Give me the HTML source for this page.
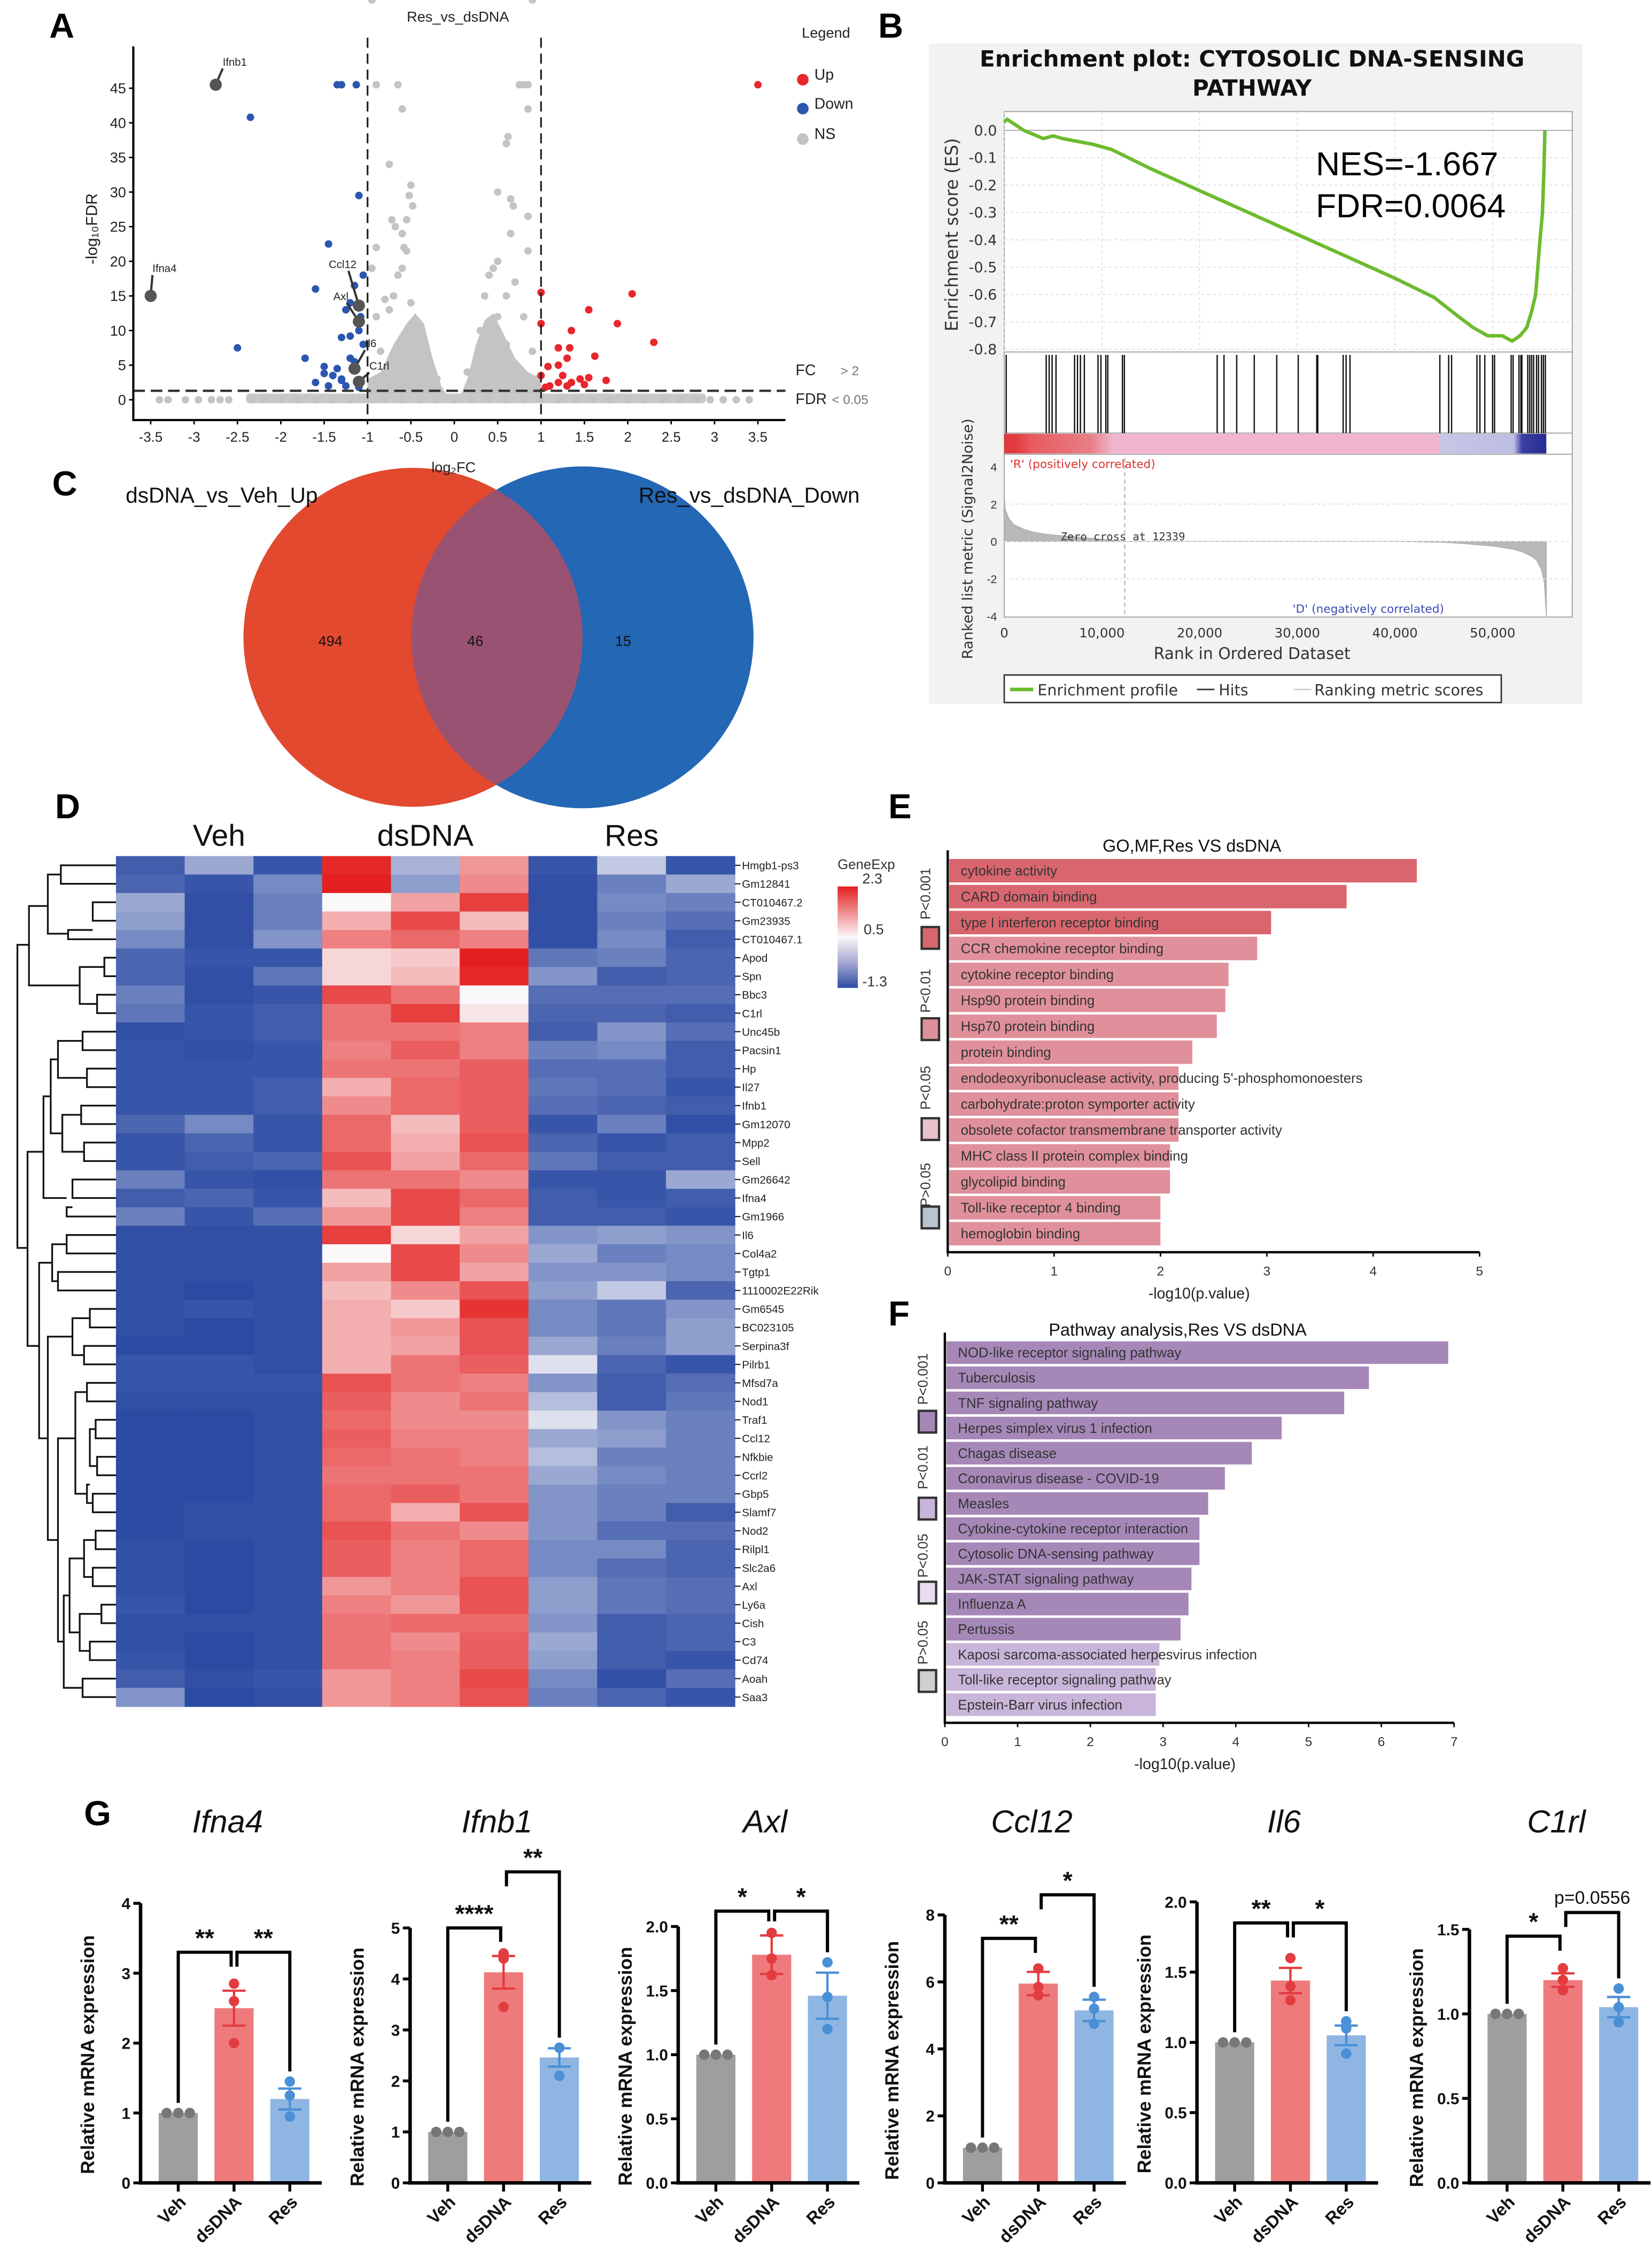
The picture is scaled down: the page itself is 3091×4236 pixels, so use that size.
<!DOCTYPE html>
<html><head><meta charset="utf-8">
<style>
html,body{margin:0;padding:0;background:#fff;}
svg{display:block;font-family:"Liberation Sans",Arial,sans-serif;}
</style></head>
<body>
<svg id="fig" xmlns="http://www.w3.org/2000/svg" width="3091" height="4236" viewBox="0 0 1140 1563" preserveAspectRatio="none">
<rect x="0" y="0" width="1140" height="1563" fill="#fff"/>
<g id="pC"></g>
<g id="pA"></g>
<g id="pB"></g>
<g id="pD"></g>
<g id="pE"></g>
<g id="pF"></g>
<g id="pG"></g>
</svg>
<script>
// ---------- DATA ----------
// Panel A volcano
const upFC=[3.5,2.05,2.3,1.55,1.88,1.35,1.0,1.0,1.33,1.2,1.3,1.62,1.2,1.25,1.08,1.0,1.45,1.55,1.35,1.75,1.1,1.2,1.3,1.05,1.5];
const upY=[45.5,15.3,8.3,13,11,10,15.5,11,7.5,7.5,6,6.3,5,3.5,4.8,3.5,3,3.2,2.5,2.8,2,2.5,2,1.8,2.2];
const downFC=[-1.35,-1.3,-1.13,-2.35,-1.1,-1.45,-2.5,-1.72,-1.05,-1.6,-1.15,-1.2,-1.25,-1.08,-1.3,-1.2,-1.5,-1.4,-1.3,-1.1,-1.6,-1.25,-1.35,-1.15,-1.05,-1.45,-1.2,-1.1,-1.3,-1.5];
const downY=[45.5,45.5,45.5,40.8,29.5,22.5,7.5,6,18,16,16.5,14,13,12,9,9.2,4.8,3.5,3,10,2.5,2,4.5,5.5,8,2,6,1.8,2.8,3.8];
const nsFC=[-3.4,-3.3,-3.1,-2.95,-2.8,-2.7,-2.6,-2.35,-2.2,-2,-1.8,-1.6,-1.4,-1.2,-1.0,-0.8,-0.6,-0.4,-0.2,0,0.2,0.4,0.6,0.8,1.0,1.2,1.4,1.6,1.8,2,2.2,2.4,2.6,2.8,2.95,3.1,3.25,3.4,
-0.9,-0.65,0.75,0.8,0.85,-0.6,0.85,0.6,0.62,-0.75,-0.5,-0.52,-0.48,-0.55,0.5,0.65,0.68,0.85,-0.72,-0.68,-0.6,-0.58,-0.55,0.65,0.85,-0.9,-0.6,0.45,0.5,-0.95,-0.65,0.4,0.7,0.6,-0.8,-0.7,-0.5,0.35,0.5,0.8,-0.9,-0.75,-0.45,0.3,0.45,0.6,0.9,-0.85,-0.3,0.25,0.95,-0.2,0.15,0.9,-0.95];
const nsY=[0,0,0,0,0,0,0,0,0,0,0,0,0,0,0,0,0,0,0,0,0,0,0,0,0,0,0,0,0,0,0,0,0,0,0,0,0,0,
45.5,45.5,45.5,45.5,45.5,42,42,37,38,34,31,29.5,28,26,30,29,28,26.5,26,25,24,22,21.5,24,21.5,22,19,19,20,19,18,18,17,15,14.5,15,14,15,12,12,12,13,11,10,9,8,7,7,6,5,3,3,4];
// Panel B GSEA
const esRank=[0,0.3,2,4,5,6,7.5,9,11,15,20,25,30,35,40,44,46.5,48,49.5,50.2,51,52,52.8,53.5,54,54.4,54.8,55.1,55.25,55.35];
const esVal=[0.03,0.04,0.0,-0.03,-0.02,-0.03,-0.04,-0.05,-0.07,-0.14,-0.22,-0.3,-0.38,-0.46,-0.54,-0.61,-0.68,-0.72,-0.75,-0.75,-0.75,-0.77,-0.75,-0.72,-0.66,-0.6,-0.42,-0.3,-0.15,0.0];
const hitRank=[0.2,4.3,4.6,4.9,5.3,7.2,7.5,7.8,8.2,9.6,9.9,10.4,10.6,12.1,12.3,21.8,22.5,23.8,25.6,27.9,30.1,32.0,32.1,34.7,35.0,35.4,44.6,45.5,45.8,48.4,48.7,49.2,50.0,50.2,51.9,52.1,52.7,52.9,53.0,53.6,53.8,54.0,54.2,54.5,54.7,55.0,55.2,55.4];
const metRank=[0,0.1,0.5,1,2,3,4,5,6,8,10,12.3,20,30,40,45,47,50,52,53,54,54.5,55,55.3,55.5];
const metVal=[2.5,1.7,1.2,0.9,0.65,0.5,0.4,0.35,0.3,0.22,0.12,0,0,0,0,-0.05,-0.12,-0.25,-0.4,-0.55,-0.8,-1.0,-1.5,-2.2,-4.0];
// Panel C Venn
const vennLabels=["dsDNA_vs_Veh_Up","Res_vs_dsDNA_Down"];
const vennCounts=[494,46,15];
// Panel D heatmap
const genes=["Hmgb1-ps3","Gm12841","CT010467.2","Gm23935","CT010467.1","Apod","Spn","Bbc3","C1rl","Unc45b","Pacsin1","Hp","Il27","Ifnb1","Gm12070","Mpp2","Sell","Gm26642","Ifna4","Gm1966","Il6","Col4a2","Tgtp1","1110002E22Rik","Gm6545","BC023105","Serpina3f","Pilrb1","Mfsd7a","Nod1","Traf1","Ccl12","Nfkbie","Ccrl2","Gbp5","Slamf7","Nod2","Rilpl1","Slc2a6","Axl","Ly6a","Cish","C3","Cd74","Aoah","Saa3"];
const groups=["Veh","dsDNA","Res"];
const expr=[
[-1.0,-0.2,-1.1, 2.2,-0.1,1.2, -1.1,0.1,-1.1],
[-0.9,-1.1,-0.5, 2.3,-0.3,1.3, -1.2,-0.6,-0.2],
[-0.2,-1.2,-0.6, 0.5,1.1,2.0, -1.2,-0.5,-0.6],
[-0.3,-1.2,-0.6, 1.0,1.9,0.9, -1.2,-0.6,-0.8],
[-0.5,-1.2,-0.4, 1.4,1.6,1.4, -1.2,-0.5,-1.0],
[-0.9,-1.1,-1.1, 0.7,0.8,2.3, -0.7,-0.6,-0.9],
[-0.9,-1.2,-0.7, 0.7,0.9,2.2, -0.4,-1.0,-0.9],
[-0.6,-1.2,-1.1, 1.9,1.5,0.5, -0.8,-0.8,-0.8],
[-0.7,-1.1,-1.0, 1.5,2.0,0.6, -0.9,-0.9,-1.0],
[-1.2,-1.1,-1.0, 1.5,1.5,1.4, -1.0,-0.4,-0.8],
[-1.1,-1.2,-1.1, 1.4,1.7,1.4, -0.6,-0.5,-1.0],
[-1.1,-1.1,-1.1, 1.5,1.5,1.7, -0.8,-0.8,-1.0],
[-1.1,-1.1,-1.0, 1.0,1.6,1.7, -0.7,-0.8,-1.1],
[-1.1,-1.1,-1.0, 1.3,1.6,1.7, -0.8,-0.9,-1.0],
[-0.9,-0.5,-1.1, 1.6,0.9,1.7, -1.1,-0.6,-1.2],
[-1.1,-0.9,-1.1, 1.6,1.0,1.8, -0.9,-1.1,-1.0],
[-1.1,-1.0,-0.9, 1.8,1.1,1.6, -0.7,-1.0,-1.0],
[-0.6,-1.1,-1.2, 1.5,1.5,1.3, -1.1,-1.1,-0.2],
[-1.0,-0.9,-1.1, 0.9,1.9,1.6, -1.0,-1.1,-1.0],
[-0.6,-1.1,-0.8, 1.2,1.9,1.4, -1.0,-1.0,-1.1],
[-1.2,-1.2,-1.2, 2.0,0.7,1.1, -0.4,-0.3,-0.4],
[-1.2,-1.2,-1.2, 0.5,1.9,1.3, -0.2,-0.6,-0.5],
[-1.2,-1.2,-1.2, 1.1,1.9,1.1, -0.4,-0.4,-0.5],
[-1.2,-1.3,-1.2, 0.9,1.3,1.8, -0.3,0.1,-0.9],
[-1.2,-1.1,-1.2, 1.0,0.8,2.1, -0.5,-0.7,-0.4],
[-1.2,-1.3,-1.2, 1.0,1.2,1.8, -0.5,-0.7,-0.3],
[-1.3,-1.3,-1.2, 1.0,1.1,1.8, -0.2,-0.6,-0.3],
[-1.1,-1.1,-1.2, 1.0,1.5,1.7, 0.3,-0.9,-1.1],
[-1.1,-1.1,-1.1, 1.8,1.5,1.4, -0.4,-1.0,-0.8],
[-1.2,-1.2,-1.2, 1.7,1.3,1.5, 0.0,-1.0,-0.7],
[-1.3,-1.3,-1.2, 1.6,1.3,1.3, 0.3,-0.4,-0.6],
[-1.3,-1.3,-1.2, 1.7,1.4,1.4, -0.2,-0.3,-0.6],
[-1.3,-1.3,-1.2, 1.6,1.5,1.4, 0.0,-0.6,-0.6],
[-1.3,-1.3,-1.2, 1.5,1.5,1.5, -0.2,-0.5,-0.6],
[-1.3,-1.3,-1.2, 1.6,1.7,1.5, -0.4,-0.6,-0.6],
[-1.3,-1.2,-1.2, 1.6,1.0,1.8, -0.4,-0.6,-1.0],
[-1.3,-1.2,-1.2, 1.8,1.5,1.3, -0.4,-0.8,-0.8],
[-1.2,-1.3,-1.2, 1.7,1.4,1.6, -0.5,-0.5,-0.9],
[-1.2,-1.3,-1.2, 1.7,1.4,1.6, -0.5,-0.8,-0.9],
[-1.2,-1.3,-1.2, 1.2,1.4,1.8, -0.3,-0.7,-0.8],
[-1.1,-1.3,-1.2, 1.4,1.2,1.8, -0.3,-0.7,-0.8],
[-1.2,-1.2,-1.2, 1.5,1.6,1.6, -0.4,-1.0,-0.9],
[-1.2,-1.3,-1.2, 1.5,1.3,1.7, -0.2,-1.0,-0.9],
[-1.1,-1.3,-1.2, 1.5,1.4,1.7, -0.3,-1.0,-1.1],
[-1.0,-1.2,-1.1, 1.2,1.4,1.9, -0.5,-1.2,-0.8],
[-0.4,-1.3,-1.2, 1.2,1.4,1.8, -0.6,-0.9,-1.1]];
// Panel E
const goTerms=["cytokine activity","CARD domain binding","type I interferon receptor binding","CCR chemokine receptor binding","cytokine receptor binding","Hsp90 protein binding","Hsp70 protein binding","protein binding","endodeoxyribonuclease activity, producing 5'-phosphomonoesters","carbohydrate:proton symporter activity","obsolete cofactor transmembrane transporter activity","MHC class II protein complex binding","glycolipid binding","Toll-like receptor 4 binding","hemoglobin binding"];
const goVals=[4.41,3.75,3.04,2.91,2.64,2.61,2.53,2.30,2.17,2.17,2.17,2.09,2.09,2.0,2.0];
const goTicks=[0,1,2,3,4,5];
// Panel F
const pwTerms=["NOD-like receptor signaling pathway","Tuberculosis","TNF signaling pathway","Herpes simplex virus 1 infection","Chagas disease","Coronavirus disease - COVID-19","Measles","Cytokine-cytokine receptor interaction","Cytosolic DNA-sensing pathway","JAK-STAT signaling pathway","Influenza A","Pertussis","Kaposi sarcoma-associated herpesvirus infection","Toll-like receptor signaling pathway","Epstein-Barr virus infection"];
const pwVals=[6.92,5.83,5.49,4.63,4.22,3.85,3.62,3.5,3.5,3.39,3.35,3.24,2.95,2.9,2.9];
const pwTicks=[0,1,2,3,4,5,6,7];
// Panel G
const qGenes=["Ifna4","Ifnb1","Axl","Ccl12","Il6","C1rl"];
const qGroups=["Veh","dsDNA","Res"];
const qMeans=[[1,2.5,1.2],[1,4.13,2.46],[1,1.78,1.46],[1.05,5.95,5.15],[1,1.44,1.05],[1,1.2,1.04]];
const qSem=[[0,0.25,0.15],[0,0.32,0.18],[0,0.15,0.18],[0,0.35,0.32],[0,0.09,0.07],[0,0.04,0.06]];
const qPts=[[[1,1,1],[2.85,2.6,2.0],[1.45,1.25,0.95]],[[1,1,1],[4.5,4.4,3.45],[2.65,2.65,2.1]],[[1,1,1],[1.95,1.75,1.62],[1.72,1.45,1.2]],[[1.05,1.05,1.05],[6.4,5.85,5.6],[5.55,5.2,4.75]],[[1,1,1],[1.6,1.4,1.3],[1.15,1.1,0.92]],[[1,1,1],[1.27,1.2,1.14],[1.15,1.04,0.95]]];
const qTicks=[[0,1,2,3,4],[0,1,2,3,4,5],[0,0.5,1.0,1.5,2.0],[0,2,4,6,8],[0,0.5,1.0,1.5,2.0],[0,0.5,1.0,1.5]];
const qSig=[[[0,1,3.3,"**"],[1,2,3.3,"**"]],[[0,1,5.0,"****"],[1,2,6.1,"**"]],[[0,1,2.12,"*"],[1,2,2.12,"*"]],[[0,1,7.3,"**"],[1,2,8.6,"*"]],[[0,1,1.85,"**"],[1,2,1.85,"*"]],[[0,1,1.46,"*"],[1,2,1.6,"p=0.0556"]]];

// ---------- HELPERS ----------
const NS="http://www.w3.org/2000/svg";
function mk(parent,tag,attrs){const e=document.createElementNS(NS,tag);for(const k in attrs)e.setAttribute(k,attrs[k]);parent.appendChild(e);return e;}
function tx(parent,x,y,s,size,anchor,extra){const e=mk(parent,"text",Object.assign({x:x,y:y,"font-size":size,"text-anchor":anchor||"start",fill:"#222"},extra||{}));e.textContent=s;return e;}
function lerp(a,b,t){return a+(b-a)*t;}
function mixC(c1,c2,t){return "rgb("+[0,1,2].map(i=>Math.round(lerp(c1[i],c2[i],t))).join(",")+")";}

const root=document.getElementById("fig");
[["A",34,26],["B",606,26],["C",36,342],["D",38,565],["E",613,565],["F",613,915],["G",58,1260]].forEach(p=>{
 const t=tx(root,p[1],p[2],p[0],24,"start",{"font-weight":"bold",fill:"#000"});
 
 
});

// ---------- PANEL A ----------
(function(){
 const g=document.getElementById("pA");
 const x=v=>313.5+v*59.86, y=v=>276-v*4.78;
 const t0=tx(g,316,15,"Res_vs_dsDNA",10,"middle");
 
 
 const P=(a,b)=>x(a).toFixed(1)+","+y(b).toFixed(1);
 const cl=mk(g,"path",{d:"M"+P(-1,0)+" L"+P(-1,3)+" L"+P(-0.85,4)+" L"+P(-0.7,8)+" L"+P(-0.55,11)+" L"+P(-0.45,12.5)+" L"+P(-0.35,11)+" L"+P(-0.25,6)+" L"+P(-0.15,2)+" L"+P(-0.05,0)+"Z M"+P(0.05,0)+" L"+P(0.15,3)+" L"+P(0.25,8)+" L"+P(0.35,11.5)+" L"+P(0.45,12.5)+" L"+P(0.55,10)+" L"+P(0.7,6)+" L"+P(0.85,4)+" L"+P(1,3)+" L"+P(1,0)+"Z",fill:"#c4c4c4"});
 
 
 const base=mk(g,"rect",{x:x(-2.4),y:y(0.9),width:x(2.9)-x(-2.4),height:y(-0.5)-y(0.9),rx:2.5,fill:"#c8c8c8"});
 
 
 for(let i=0;i<nsFC.length;i++){const c=mk(g,"circle",{cx:x(nsFC[i]),cy:y(nsY[i]),r:2.6,fill:"#c4c4c4"});
  
  }
 for(let i=0;i<upFC.length;i++){const c=mk(g,"circle",{cx:x(upFC[i]),cy:y(upY[i]),r:2.6,fill:"#e8262b"});
  
  }
 for(let i=0;i<downFC.length;i++){const c=mk(g,"circle",{cx:x(downFC[i]),cy:y(downY[i]),r:2.6,fill:"#2a56b0"});
  
  }
 [["Ifnb1",-2.75,45.5,8,-14],["Ifna4",-3.5,15,2,-18],["Ccl12",-1.1,13.6,-12,-30],["Axl",-1.1,11.3,-14,-16],["Il6",-1.15,4.5,12,-16],["C1rl",-1.1,2.6,12,-8]].forEach(l=>{
  const px=x(l[1]),py=y(l[2]);
  mk(g,"line",{x1:px,y1:py,x2:px+l[3]*0.6,y2:py+l[4]*0.8,stroke:"#333","stroke-width":1.5});
  const c=mk(g,"circle",{cx:px,cy:py,r:4.2,fill:"#555"});
  
  
  const t=tx(g,px+l[3]*0.6+(l[3]>0?0:-4),py+l[4]*0.8-2,l[0],7.5,l[3]>0?"start":"middle");
  
  
 });
 [x(-1),x(1)].forEach(xx=>{const l=mk(g,"line",{x1:xx,y1:26,x2:xx,y2:289,stroke:"#222","stroke-width":1.2,"stroke-dasharray":"7,4"});
  
  });
 const hl=mk(g,"line",{x1:92,y1:y(1.3),x2:542,y2:y(1.3),stroke:"#333","stroke-width":1.6,"stroke-dasharray":"8,4"});
 
 
 const ax=mk(g,"path",{d:"M92,32 L92,290 L542,290",fill:"none",stroke:"#000","stroke-width":1.5});
 
 
 for(let v=0;v<=45;v+=5){mk(g,"line",{x1:89,y1:y(v),x2:92,y2:y(v),stroke:"#000"});
  const t=tx(g,87,y(v)+3.5,String(v),10,"end");
  
  }
 for(let v=-3.5;v<=3.51;v+=0.5){mk(g,"line",{x1:x(v),y1:290,x2:x(v),y2:293,stroke:"#000"});
  const t=tx(g,x(v),305,String(Math.round(v*10)/10),9.5,"middle");
  
  }
 const xl=tx(g,313,326,"log₂FC",10,"middle");
 
 
 const yl=tx(g,0,0,"-log₁₀FDR",11,"middle",{transform:"translate(67,158) rotate(-90)"});
 
 
 const lg=tx(g,570,26,"Legend",10,"middle");
 
 
 [["Up","#e8262b",55],["Down","#2a56b0",75],["NS","#c4c4c4",96]].forEach(e=>{
  const c=mk(g,"circle",{cx:554,cy:e[2],r:4,fill:e[1]});
  
  
  tx(g,562,e[2],e[0],10.5,"start");
 });
 tx(g,549,259,"FC",10.5,"start");tx(g,580,259,"> 2",9,"start",{fill:"#777"});
 tx(g,549,279,"FDR",10.5,"start");tx(g,574,279,"< 0.05",9,"start",{fill:"#777"});
})();

// ---------- PANEL B ----------
(function(){
 const g=document.getElementById("pB");
 const bg=mk(g,"rect",{x:641,y:30,width:451,height:456,fill:"#f2f2f1"});
 
 
 tx(g,864,46,"Enrichment plot: CYTOSOLIC DNA-SENSING",15.5,"middle",{"font-weight":"bold","font-family":"DejaVu Sans, sans-serif",fill:"#111"});
 tx(g,864,66,"PATHWAY",15.5,"middle",{"font-weight":"bold","font-family":"DejaVu Sans, sans-serif",fill:"#111"});
 const X=k=>693+k*6.74;
 const esY=v=>90-v*189;
 const mY=v=>373.8-v*12.9;
 mk(g,"rect",{x:693,y:77,width:392,height:349,fill:"#fff",stroke:"#aaa","stroke-width":0.8});
 mk(g,"line",{x1:693,y1:243,x2:1085,y2:243,stroke:"#aaa","stroke-width":0.8});
 mk(g,"line",{x1:693,y1:299,x2:1085,y2:299,stroke:"#aaa","stroke-width":0.8});
 mk(g,"line",{x1:693,y1:313.6,x2:1085,y2:313.6,stroke:"#aaa","stroke-width":0.8});
 for(let k=0;k<=55;k+=10){mk(g,"line",{x1:X(k),y1:77,x2:X(k),y2:243,stroke:"#ddd","stroke-width":0.6,"stroke-dasharray":"2,2"});}
 for(let v=0;v>=-0.8;v-=0.1){mk(g,"line",{x1:693,y1:esY(v),x2:1085,y2:esY(v),stroke:v===0?"#999":"#ddd","stroke-width":0.6,"stroke-dasharray":v===0?"":"2,2"});
  const t=tx(g,688,esY(v)+3.5,(Math.abs(v)<1e-9?"0.0":v.toFixed(1)),10,"end",{fill:"#333","font-family":"DejaVu Sans, sans-serif"});
  
  }
 const esp=esRank.map((k,i)=>(i?"L":"M")+X(k).toFixed(1)+","+esY(esVal[i]).toFixed(1)).join(" ");
 const es=mk(g,"path",{d:esp,fill:"none",stroke:"#6dbb2e","stroke-width":2.4});
 
 
 const n1=tx(g,908,121,"NES=-1.667",23,"start",{fill:"#000"});
 
 
 const n2=tx(g,908,150,"FDR=0.0064",23,"start",{fill:"#000"});
 
 
 const yl=tx(g,0,0,"Enrichment score (ES)",12,"middle",{transform:"translate(661,162) rotate(-90)",fill:"#333","font-family":"DejaVu Sans, sans-serif"});
 
 
 hitRank.forEach(k=>{const l=mk(g,"line",{x1:X(k),y1:245,x2:X(k),y2:299,stroke:"#111","stroke-width":0.9});
  
  });
 const defs=mk(g,"defs",{});
 const lgr=mk(defs,"linearGradient",{id:"rk",x1:0,x2:1,y1:0,y2:0});
 [[0,"#e03a3f"],[0.02,"#e03a3f"],[0.05,"#e85a5e"],[0.16,"#e87e88"],[0.2,"#f1b6cd"],[0.8,"#f1b6cd"],[0.805,"#c7c6e6"],[0.94,"#bdbde2"],[0.955,"#3b40a3"],[1,"#262b91"]].forEach(s=>mk(lgr,"stop",{offset:s[0],"stop-color":s[1]}));
 const rb=mk(g,"rect",{x:693,y:299.5,width:X(55.5)-693,height:13.6,fill:"url(#rk)"});
 
 
 tx(g,697,323,"'R' (positively correlated)",8,"start",{fill:"#e03030","font-family":"DejaVu Sans, sans-serif"});
 tx(g,892,423,"'D' (negatively correlated)",8,"start",{fill:"#3b4bb0","font-family":"DejaVu Sans, sans-serif"});
 let mp="M"+X(0)+","+mY(0)+" "+metRank.map((k,i)=>"L"+X(k).toFixed(1)+","+mY(metVal[i]).toFixed(1)).join(" ")+" L"+X(55.5)+","+mY(0)+"Z";
 const ma=mk(g,"path",{d:mp,fill:"#b8b8b8",stroke:"#aaa","stroke-width":0.5});
 
 
 mk(g,"line",{x1:X(12.339),y1:316,x2:X(12.339),y2:426,stroke:"#aaa","stroke-width":0.7,"stroke-dasharray":"3,2"});
 tx(g,732,373,"Zero cross at 12339",7.5,"start",{fill:"#333","font-family":"DejaVu Mono, monospace"});
 [4,2,0,-2,-4].forEach(v=>{const t=tx(g,688,mY(v)+3,String(v),8,"end",{fill:"#333"});
  
  
  if(v!==4&&v!==-4) mk(g,"line",{x1:693,y1:mY(v),x2:1085,y2:mY(v),stroke:"#ddd","stroke-width":0.6,"stroke-dasharray":"2,2"});});
 [0,10,20,30,40,50].forEach(k=>{const t=tx(g,X(k),440,k===0?"0":k+",000",9,"middle",{fill:"#333","font-family":"DejaVu Sans, sans-serif"});
  
  });
 const xl=tx(g,864,455,"Rank in Ordered Dataset",11,"middle",{fill:"#333","font-family":"DejaVu Sans, sans-serif"});
 
 
 const ml=tx(g,0,0,"Ranked list metric (Signal2Noise)",10,"middle",{transform:"translate(671,372) rotate(-90)",fill:"#333","font-family":"DejaVu Sans, sans-serif"});
 
 
 const lb=mk(g,"rect",{x:693,y:466,width:343,height:19,fill:"#fff",stroke:"#333","stroke-width":1});
 
 
 mk(g,"line",{x1:697,y1:476,x2:713,y2:476,stroke:"#6dbb2e","stroke-width":2.5});
 tx(g,716,480,"Enrichment profile",10.5,"start",{fill:"#333","font-family":"DejaVu Sans, sans-serif"});
 mk(g,"line",{x1:826,y1:476,x2:838,y2:476,stroke:"#333","stroke-width":1});
 tx(g,841,480,"Hits",10.5,"start",{fill:"#333","font-family":"DejaVu Sans, sans-serif"});
 mk(g,"line",{x1:893,y1:476,x2:905,y2:476,stroke:"#ccc","stroke-width":1});
 tx(g,907,480,"Ranking metric scores",10.5,"start",{fill:"#333","font-family":"DejaVu Sans, sans-serif"});
})();

// ---------- PANEL C ----------
(function(){
 const g=document.getElementById("pC");
 const c1=mk(g,"circle",{cx:285,cy:440,r:117,fill:"#e2492f"});
 
 
 const c2=mk(g,"circle",{cx:402,cy:440,r:118,fill:"#2467b5"});
 
 
 const cp=mk(g,"clipPath",{id:"vc"});mk(cp,"circle",{cx:285,cy:440,r:117});
 const ov=mk(g,"circle",{cx:402,cy:440,r:118,fill:"#9a5273","clip-path":"url(#vc)"});
 
 
 const l1=tx(g,153,347,vennLabels[0],15,"middle",{fill:"#111"});
 
 
 const l2=tx(g,517,347,vennLabels[1],15,"middle",{fill:"#111"});
 
 
 [[228,vennCounts[0]],[328,vennCounts[1]],[430,vennCounts[2]]].forEach(p=>{const t=tx(g,p[0],446,String(p[1]),10,"middle",{fill:"#111"});
  
  });
})();

// ---------- PANEL D ----------
(function(){
 const g=document.getElementById("pD");
 const x0=80,cw=(507-80)/9,y0=591,rh=(1178-591)/46;
 const blue=[43,75,163],white=[250,248,250],red=[228,31,31];
 function col(v){if(v<0.5){const t=Math.max(0,(v+1.3)/1.8);return mixC(blue,white,Math.pow(t,1.25));}const t=Math.min(1,(v-0.5)/1.8);return mixC(white,red,Math.pow(t,0.85));}
 expr.forEach((row,i)=>{row.forEach((v,j)=>{
  const r=mk(g,"rect",{x:(x0+j*cw).toFixed(2),y:(y0+i*rh).toFixed(2),width:(cw+0.4).toFixed(2),height:(rh+0.4).toFixed(2),fill:col(v)});
  
  
 });
  mk(g,"line",{x1:507,y1:y0+(i+0.5)*rh,x2:511,y2:y0+(i+0.5)*rh,stroke:"#222","stroke-width":0.8});
  const t=tx(g,512,y0+(i+0.5)*rh+2.8,genes[i],7.6,"start",{fill:"#222"});
  
  
 });
 groups.forEach((gname,k)=>{const t=tx(g,x0+(k*3+1.5)*cw,584,gname,21,"middle",{fill:"#111"});
  
  });
 const ry=i=>y0+(i+0.5)*rh;
 let dp="";
 const br=(a,b,xa,xb,xm)=>{dp+="M"+xa+","+a+" L"+xm+","+a+" L"+xm+","+b+" L"+xb+","+b+" ";};
 br(ry(0),ry(1),80,80,42);
 br(ry(2),ry(3),80,80,64);br(ry(3.5),ry(4),64,80,47);
 br(ry(5),ry(6),80,80,72);br(ry(7),ry(8),80,80,67);br(ry(5.5),ry(7.5),72,67,55);
 br(ry(0.5),ry(3.7),42,47,33);br(ry(2.2),ry(6.5),33,55,20);
 br(ry(9),ry(10),80,80,57);br(ry(11),ry(12),80,80,60);br(ry(13),ry(14),80,80,56);br(ry(15),ry(16),80,80,58);
 br(ry(17),ry(18),80,80,50);br(ry(18.5),ry(19),50,80,46);
 br(ry(9.5),ry(11.5),57,60,40);br(ry(13.5),ry(15.5),56,58,43);br(ry(10.5),ry(14.5),40,43,35);br(ry(12.5),ry(18),35,46,30);
 br(ry(20),ry(21),80,80,46);br(ry(22),ry(23),80,80,40);br(ry(20.5),ry(22.5),46,40,36);
 br(ry(24),ry(25),80,80,62);br(ry(26),ry(27),80,80,58);br(ry(24.5),ry(26.5),62,58,50);
 br(ry(28),ry(29),80,80,60);br(ry(30),ry(31),80,80,66);br(ry(32),ry(33),80,80,67);br(ry(34),ry(35),80,80,64);
 br(ry(30.5),ry(32.5),66,67,62);br(ry(33.5),ry(34.5),62,64,60);br(ry(28.5),ry(34),60,60,52);
 br(ry(36),ry(37),80,80,66);br(ry(38),ry(39),80,80,64);br(ry(40),ry(41),80,80,70);br(ry(42),ry(43),80,80,62);br(ry(44),ry(45),80,80,57);
 br(ry(36.5),ry(38.5),66,64,58);br(ry(40.5),ry(42.5),70,62,55);br(ry(37.5),ry(41.5),58,55,48);br(ry(39.5),ry(44.5),48,57,44);
 br(ry(31),ry(42),52,44,40);br(ry(25.5),ry(36.5),50,40,33);br(ry(21.5),ry(31),36,33,27);br(ry(15.5),ry(26),30,27,19);
 br(ry(4.3),ry(20.7),20,19,12);
 const dd=mk(g,"path",{d:dp,fill:"none",stroke:"#111","stroke-width":1.2});
 
 
 const defs=mk(g,"defs",{});
 const lg=mk(defs,"linearGradient",{id:"hmg",x1:0,x2:0,y1:0,y2:1});
 [[0,"#e41f1f"],[0.5,"#faf8fa"],[0.75,"#a7a8d2"],[1,"#2b4ba3"]].forEach(s=>mk(lg,"stop",{offset:s[0],"stop-color":s[1]}));
 const cb=mk(g,"rect",{x:578,y:612,width:14,height:70,fill:"url(#hmg)"});
 
 
 tx(g,578,600,"GeneExp",9.5,"start",{fill:"#333"});
 tx(g,595,610,"2.3",10,"start",{fill:"#333"});
 tx(g,596,645,"0.5",10,"start",{fill:"#333"});
 tx(g,595,681,"-1.3",10,"start",{fill:"#333"});
})();

// ---------- PANEL E / F ----------
function hbar(gid,title,titleY,terms,vals,ticks,x0,unit,yTop,step,bh,colors,groupsP,pfx){
 const g=document.getElementById(gid);
 const t=tx(g,x0+(unit*(ticks[ticks.length-1]))/2-15,titleY,title,12,"middle",{fill:"#111"});
 
 
 vals.forEach((v,i)=>{
  const r=mk(g,"rect",{x:x0+1,y:yTop+i*step,width:v*unit-1,height:bh,fill:colors[i]});
  
  
  const l=tx(g,x0+9,yTop+i*step+bh/2+3.3,terms[i],9.5,"start",{fill:"#333"});
  
  
 });
 const axB=yTop+vals.length*step+3;
 const ax=mk(g,"path",{d:"M"+x0+","+(yTop-6)+" L"+x0+","+axB+" L"+(x0+unit*ticks[ticks.length-1])+","+axB,fill:"none",stroke:"#000","stroke-width":1.6});
 
 
 ticks.forEach(k=>{mk(g,"line",{x1:x0+k*unit,y1:axB,x2:x0+k*unit,y2:axB+3,stroke:"#000"});
  const tt=tx(g,x0+k*unit,axB+16,String(k),9,"middle",{fill:"#333"});
  
  });
 const xl=tx(g,x0+unit*ticks[ticks.length-1]/2-10,axB+32,"-log10(p.value)",10.5,"middle",{fill:"#222"});
 
 
 groupsP.forEach(p=>{
  const pt=tx(g,0,0,p[0],9.5,"middle",{transform:"translate("+(x0-12)+","+p[1]+") rotate(-90)",fill:"#333"});
  
  
  const sq=mk(g,"rect",{x:x0-18,y:p[2],width:12,height:15,fill:p[3],stroke:"#333","stroke-width":1.6});
  
  
 });
}
hbar("pE","GO,MF,Res VS dsDNA",588,goTerms,goVals,goTicks,654,73.4,593,17.9,16.2,
 goVals.map((v,i)=>i<3?"#d9666e":"#e0909a"),
 [["P<0.001",617,640,"#d9666e"],["P<0.01",684,703,"#e0909a"],["P<0.05",751,772,"#e8c1cb"],["P>0.05",818,833,"#b9c4d0"]],"go");
hbar("pF","Pathway analysis,Res VS dsDNA",922,pwTerms,pwVals,pwTicks,652,50.2,926,17.36,15.6,
 pwVals.map((v,i)=>i<12?"#a688b8":"#c9b5d9"),
 [["P<0.001",952,974,"#a688b8"],["P<0.01",1013,1034,"#c9b5d9"],["P<0.05",1074,1092,"#e6dcef"],["P>0.05",1134,1153,"#cfcfcf"]],"pathway");

// ---------- PANEL G ----------
(function(){
 const g=document.getElementById("pG");
 const axX=[97,283,468,652,826,1014];
 const topY=[1314,1331,1330,1322,1313,1332];
 const zeroY=1507;
 const cols=["#9e9ea1","#ee7a7c","#8fb6e2"];
 const dcols=["#77777a","#e33c40","#4a90d6"];
 const offs=[26,64.5,103],bw=27;
 qGenes.forEach((gn,c)=>{
  const maxT=qTicks[c][qTicks[c].length-1];
  const Y=v=>zeroY-(v/maxT)*(zeroY-topY[c]);
  const ax=axX[c];
  const t=tx(g,ax+60,1265,gn,22,"middle",{"font-style":"italic",fill:"#111"});
  
  
  const yl=tx(g,0,0,"Relative mRNA expression",13,"middle",{transform:"translate("+(ax-32)+","+((zeroY+topY[c])/2+8)+") rotate(-90)","font-weight":"bold",fill:"#111"});
  
  
  qMeans[c].forEach((m,k)=>{
   const cx=ax+offs[k];
   const b=mk(g,"rect",{x:cx-bw/2,y:Y(m),width:bw,height:zeroY-Y(m),fill:cols[k]});
   
   
   const s=qSem[c][k];
   if(s>0){mk(g,"path",{d:"M"+cx+","+Y(m+s)+" L"+cx+","+Y(m-s)+" M"+(cx-8)+","+Y(m+s)+" L"+(cx+8)+","+Y(m+s)+" M"+(cx-8)+","+Y(m-s)+" L"+(cx+8)+","+Y(m-s),stroke:dcols[k],"stroke-width":1.6,fill:"none"});}
   qPts[c][k].forEach((p,j)=>{const pxo=(s===0)?(j-1)*8:0;
    const d=mk(g,"circle",{cx:cx+pxo,cy:Y(p),r:3.6,fill:dcols[k]});
    
    });
   mk(g,"line",{x1:cx,y1:zeroY,x2:cx,y2:zeroY+6,stroke:"#000","stroke-width":2});
   const xl=tx(g,0,0,qGroups[k],12,"end",{transform:"translate("+(cx+6)+","+(zeroY+14)+") rotate(-45)","font-weight":"bold",fill:"#111"});
   
   
  });
  const axp=mk(g,"path",{d:"M"+ax+","+topY[c]+" L"+ax+","+zeroY+" L"+(ax+125)+","+zeroY,fill:"none",stroke:"#000","stroke-width":2.4});
  
  
  qTicks[c].forEach(v=>{mk(g,"line",{x1:ax-5,y1:Y(v),x2:ax,y2:Y(v),stroke:"#000","stroke-width":2});
   const tl=tx(g,ax-7,Y(v)+4,(maxT<=2)?v.toFixed(1):String(v),11,"end",{"font-weight":"bold",fill:"#111"});
   
   });
  qSig[c].forEach(s=>{
   const xa=ax+offs[s[0]]+(s[0]===1?2:0),xb=ax+offs[s[1]]-(s[1]===1?2:0);
   const topA=Math.max(...qPts[c][s[0]],qMeans[c][s[0]]+qSem[c][s[0]]);
   const topB=Math.max(...qPts[c][s[1]],qMeans[c][s[1]]+qSem[c][s[1]]);
   const ly=Y(s[2]);
   const ya=s[0]===1?Math.min(Y(topA)-8,ly+10):Y(topA)-7;
   const yb=s[1]===1?Math.min(Y(topB)-8,ly+10):Y(topB)-7;
   const bp=mk(g,"path",{d:"M"+xa+","+ya+" L"+xa+","+ly+" L"+xb+","+ly+" L"+xb+","+yb,fill:"none",stroke:"#000","stroke-width":2.2});
   
   
   const isP=s[3].startsWith("p");
   const st=tx(g,(xa+xb)/2,ly-(isP?6:4),s[3],isP?12.5:17,"middle",{"font-weight":isP?"normal":"bold",fill:"#111"});
   
   
  });
 });
})();
</script>
</body></html>
